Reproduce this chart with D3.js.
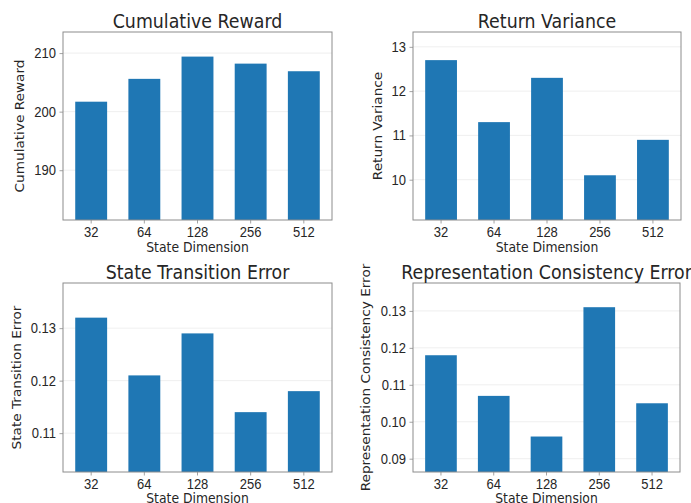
<!DOCTYPE html>
<html>
<head>
<meta charset="utf-8">
<script src="https://cdn.jsdelivr.net/npm/d3@7"></script>
<style>
  html, body { margin: 0; padding: 0; background: #fff; }
  svg { display: block; font-family: "DejaVu Sans", sans-serif; }
</style>
</head>
<body>
<svg id="chart" width="691" height="503"></svg>
<script>
// State dimensions swept in the experiment
const stateDims = ["32", "64", "128", "256", "512"];

// Metric values per state dimension
const cumulativeReward = [201.7, 205.6, 209.4, 208.2, 206.9];
const returnVariance = [12.7, 11.3, 12.3, 10.1, 10.9];
const transitionError = [0.132, 0.121, 0.129, 0.114, 0.118];
const consistencyError = [0.118, 0.107, 0.096, 0.131, 0.105];

// Tick values shown on each y axis
const rewardTicks = [190, 200, 210];
const varianceTicks = [10, 11, 12, 13];
const transitionTicks = [0.11, 0.12, 0.13];
const consistencyTicks = [0.09, 0.10, 0.11, 0.12, 0.13];

// y-axis limits for each panel
const rewardDomain = [181.5, 213.6];
const varianceDomain = [9.09, 13.335];
const transitionDomain = [0.1026, 0.1386];
const consistencyDomain = [0.0864, 0.13755];

const svg = d3.select("#chart");
const barColor = "#1f77b4";
const textColor = "#262626";
const spineColor = "#8c8c8c";
const stretch = 1.1; // text is drawn slightly taller than wide

function drawPanel(opt) {
  const { left, top, width, height, values, domain, ticks, fmt, title, ylabel, ylabelX, xlabelGap } = opt;
  const g = svg.append("g").attr("transform", `translate(${left},${top})`);

  const x = d3.scaleBand().domain(stateDims).range([0, width])
    .paddingInner(0.4).paddingOuter(0.23);
  const y = d3.scaleLinear().domain(domain).range([height, 0]);

  // horizontal grid
  g.append("g").selectAll("line").data(ticks).join("line")
    .attr("x1", 0).attr("x2", width)
    .attr("y1", d => y(d)).attr("y2", d => y(d))
    .attr("stroke", "#ebebeb").attr("stroke-width", 0.8);

  // bars
  g.append("g").selectAll("rect").data(values).join("rect")
    .attr("x", (d, i) => x(stateDims[i]))
    .attr("width", x.bandwidth())
    .attr("y", d => y(d))
    .attr("height", d => height - y(d))
    .attr("fill", barColor);

  // axes
  const yAxis = d3.axisLeft(y).tickValues(ticks).tickFormat(fmt).tickSize(3.5).tickPadding(3.5);
  const ya = g.append("g").call(yAxis);
  const xAxis = d3.axisBottom(x).tickSize(3.5).tickPadding(3);
  const xa = g.append("g").attr("transform", `translate(0,${height})`).call(xAxis);
  [ya, xa].forEach(a => {
    a.select(".domain").remove();
    a.selectAll(".tick line").attr("stroke", spineColor).attr("stroke-width", 0.8);
    a.selectAll(".tick text").attr("fill", textColor)
      .style("font-size", "13px")
      .attr("transform", `scale(1,${stretch})`);
  });

  // frame
  g.append("rect").attr("x", 0).attr("y", 0).attr("width", width).attr("height", height)
    .attr("fill", "none").attr("stroke", spineColor).attr("stroke-width", 1);

  // title
  g.append("text")
    .attr("transform", `translate(${width / 2},-4) scale(1,${stretch})`)
    .attr("text-anchor", "middle").attr("fill", textColor)
    .style("font-size", "17.4px").text(title);

  // x label
  g.append("text")
    .attr("transform", `translate(${width / 2},${height + xlabelGap}) scale(1,${stretch})`)
    .attr("text-anchor", "middle").attr("fill", textColor)
    .style("font-size", "12.4px").text("State Dimension");

  // y label
  g.append("text")
    .attr("transform", `translate(${ylabelX},${height / 2}) rotate(-90) scale(${stretch},1)`)
    .attr("text-anchor", "middle").attr("fill", textColor)
    .style("font-size", "12.4px").text(ylabel);
}

drawPanel({ left: 63, top: 32, width: 269, height: 188, values: cumulativeReward,
  domain: rewardDomain, ticks: rewardTicks, fmt: d3.format("d"),
  title: "Cumulative Reward", ylabel: "Cumulative Reward", ylabelX: -39, xlabelGap: 32 });

drawPanel({ left: 413, top: 32, width: 268, height: 188, values: returnVariance,
  domain: varianceDomain, ticks: varianceTicks, fmt: d3.format("d"),
  title: "Return Variance", ylabel: "Return Variance", ylabelX: -31, xlabelGap: 32 });

drawPanel({ left: 63, top: 283, width: 269, height: 189, values: transitionError,
  domain: transitionDomain, ticks: transitionTicks, fmt: d3.format(".2f"),
  title: "State Transition Error", ylabel: "State Transition Error", ylabelX: -42, xlabelGap: 30.5 });

drawPanel({ left: 413, top: 283, width: 267, height: 189, values: consistencyError,
  domain: consistencyDomain, ticks: consistencyTicks, fmt: d3.format(".2f"),
  title: "Representation Consistency Error", ylabel: "Representation Consistency Error", ylabelX: -43, xlabelGap: 30.5 });
</script>
</body>
</html>
